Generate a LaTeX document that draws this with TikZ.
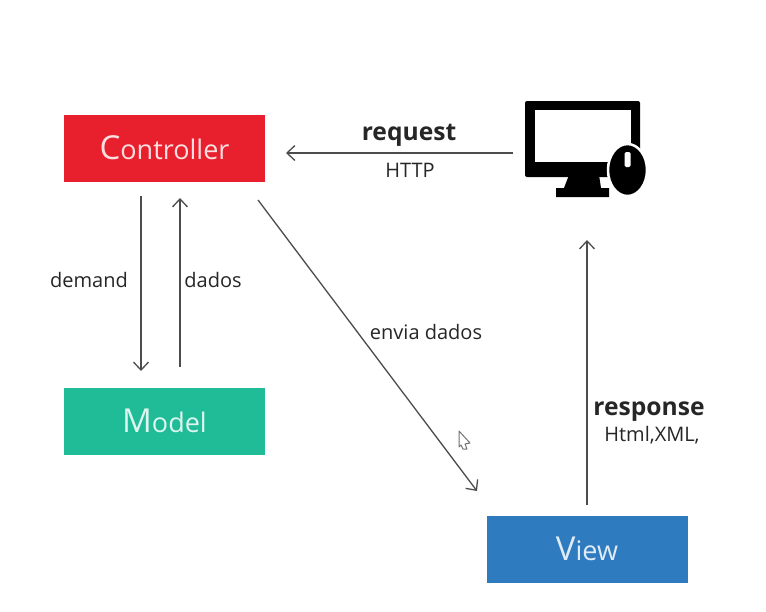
\documentclass[tikz,border=0pt]{standalone}
\usepackage{fontspec}
\usetikzlibrary{arrows.meta}
\setmainfont{Open Sans}
\begin{document}
\begin{tikzpicture}[x=1pt,y=-1pt,
  boxnode/.style={draw=none,minimum width=201pt,minimum height=67pt,inner sep=0pt,text=#1},
  boxnode/.default=white,
  lbl/.style={inner sep=0pt,text=black!85,font=\fontsize{20}{22}\selectfont},
  lblbig/.style={inner sep=0pt,text=black!85,font=\fontsize{24.6}{27}\selectfont\bfseries},
  conn/.style={draw=black!70,line width=1.3pt,-{Straight Barb[length=8pt,width=15pt,line width=1.3pt]}},
]
\useasboundingbox (0,0) rectangle (766,611);
\fill[white] (0,0) rectangle (766,611);
\definecolor{ctrlred}{HTML}{E8202E}
\definecolor{modelgreen}{HTML}{1FBC97}
\definecolor{viewblue}{HTML}{2E7BC0}
\newcommand{\boxtext}[2]{\raisebox{1.5pt}{{\fontsize{33}{36}\selectfont #1}{\fontsize{27}{36}\selectfont #2}}}
\node[boxnode={ctrlred!15!white},fill=ctrlred] (controller) at (164.5,148.5) {\boxtext{C}{ontroller}};
\node[boxnode={white!85!modelgreen},fill=modelgreen] (model) at (164.5,421.5) {\boxtext{M}{odel}};
\node[boxnode={white!85!viewblue},fill=viewblue] (view) at (587,549.5) {\boxtext{V}{iew}};
% computer icon
\fill[black,rounded corners=2pt] (525,101) rectangle (640,177);
\fill[white] (535,110) rectangle (631,162);
\fill[black] (569,175) -- (599,175) -- (601,188) -- (609,188) -- (609,197) -- (556,197) -- (556,188) -- (564,188) -- cycle;
\fill[black,draw=white,line width=2.5pt] (627.5,170) ellipse (19.5pt and 26pt);
\fill[white,rounded corners=1.5pt] (624.5,152) rectangle (630.5,167);
\coordinate (monitorleft) at (513,153);
\coordinate (monitorbottom) at (587,240);
\coordinate (ctrlreq) at (286,153);
\coordinate (ctrldown) at (141,196);
\coordinate (modeltop) at (141,371);
\coordinate (modelup) at (180,367);
\coordinate (ctrlup) at (180,198);
\coordinate (ctrldiag) at (258,200);
\coordinate (viewdiag) at (477,491);
\coordinate (viewup) at (587,505);
\draw[conn] (monitorleft) -- (ctrlreq);
\draw[conn] (ctrldown) -- (modeltop);
\draw[conn] (modelup) -- (ctrlup);
\draw[conn] (ctrldiag) -- (viewdiag);
\draw[conn] (viewup) -- (monitorbottom);
\node[lblbig] (request) at (409,135) {request};
\node[lbl] (http) at (410,170) {HTTP};
\node[lbl] (demand) at (89,280) {demand};
\node[lbl] (dados) at (213,280) {dados};
\node[lbl] (envia) at (426,332) {envia dados};
\node[lblbig] (response) at (649,412) {response};
\node[lbl] (html) at (652,435) {Html,XML,};
% mouse cursor
\draw[black!55,fill=white,line width=1pt,line join=round] (459,431) -- (470,443) -- (465,444) -- (467,449) -- (463,449) -- (461,445) -- (459,447) -- cycle;
\end{tikzpicture}
\end{document}
